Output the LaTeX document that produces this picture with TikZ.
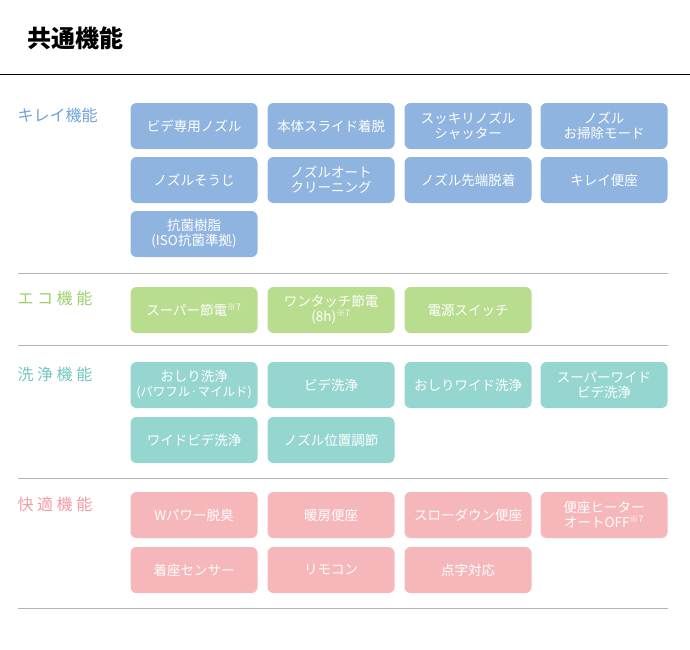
\documentclass[tikz,border=0pt]{standalone}
\usepackage{fontspec}
\setmainfont{Noto Sans CJK JP}
\usepackage{tikz}

\definecolor{kblue}{HTML}{8FB4E0}
\definecolor{kbluet}{HTML}{6FA2D8}
\definecolor{kgreen}{HTML}{B8DD8E}
\definecolor{kgreent}{HTML}{9DCF6E}
\definecolor{kteal}{HTML}{96D6D0}
\definecolor{ktealt}{HTML}{72C6BF}
\definecolor{kpink}{HTML}{F6B7BA}
\definecolor{kpinkt}{HTML}{F29CA2}

\tikzset{
  fbox/.style={rounded corners=6pt, minimum width=127pt, minimum height=46pt,
    text=white, align=center, font=\fontsize{13.5}{15}\selectfont, inner sep=1pt},
  cat/.style={anchor=west, font=\fontsize{16}{18}\selectfont},
  sep/.style={draw=black!30, line width=0.8pt}
}
\newcommand{\nsup}{\textsuperscript{\fontsize{9}{10}\selectfont ※7}}

\begin{document}
\begin{tikzpicture}[x=1pt,y=-1pt]
        \useasboundingbox (0,0) rectangle (690,649);

        % Title
        \node[anchor=west, font=\fontsize{24}{26}\selectfont\bfseries] (title) at (24,38) {共通機能};
        \draw[line width=1pt] (0,74) -- (690,74);

        % Clean
        \node[cat, text=kbluet] (clean) at (14,115) {キレイ機能};
        \node[fbox, fill=kblue] (c1) at (194,126) {ビデ専用ノズル};
        \node[fbox, fill=kblue] (c2) at (331,126) {本体スライド着脱};
        \node[fbox, fill=kblue] (c3) at (468,126) {スッキリノズル\\シャッター};
        \node[fbox, fill=kblue] (c4) at (604,126) {ノズル\\お掃除モード};
        \node[fbox, fill=kblue] (c5) at (194,180) {ノズルそうじ};
        \node[fbox, fill=kblue] (c6) at (331,180) {ノズルオート\\クリーニング};
        \node[fbox, fill=kblue] (c7) at (468,180) {ノズル先端脱着};
        \node[fbox, fill=kblue] (c8) at (604,180) {キレイ便座};
        \node[fbox, fill=kblue] (c9) at (194,234) {抗菌樹脂\\(ISO抗菌準拠)};
        \draw[sep] (18,273) -- (668,273);

        % Eco
        \node[cat, text=kgreent] (eco) at (14,298) {エ コ 機 能};
        \node[fbox, fill=kgreen] (e1) at (194,310) {スーパー節電\nsup};
        \node[fbox, fill=kgreen] (e2) at (331,310) {ワンタッチ節電\\(8h)\nsup};
        \node[fbox, fill=kgreen] (e3) at (468,310) {電源スイッチ};
        \draw[sep] (18,345) -- (668,345);

        % Wash
        \node[cat, text=ktealt] (wash) at (14,374) {洗 浄 機 能};
        \node[fbox, fill=kteal] (w1) at (194,385) {おしり洗浄\\{\fontsize{12.5}{14}\selectfont(パワフル·マイルド)}};
        \node[fbox, fill=kteal] (w2) at (331,385) {ビデ洗浄};
        \node[fbox, fill=kteal] (w3) at (468,385) {おしりワイド洗浄};
        \node[fbox, fill=kteal] (w4) at (604,385) {スーパーワイド\\ビデ洗浄};
        \node[fbox, fill=kteal] (w5) at (194,440) {ワイドビデ洗浄};
        \node[fbox, fill=kteal] (w6) at (331,440) {ノズル位置調節};
        \draw[sep] (18,478) -- (668,478);

        % Comfort
        \node[cat, text=kpinkt] (comfort) at (14,504) {快 適 機 能};
        \node[fbox, fill=kpink] (p1) at (194,515) {Wパワー脱臭};
        \node[fbox, fill=kpink] (p2) at (331,515) {暖房便座};
        \node[fbox, fill=kpink] (p3) at (468,515) {スローダウン便座};
        \node[fbox, fill=kpink] (p4) at (604,515) {便座ヒーター\\オートOFF\nsup};
        \node[fbox, fill=kpink] (p5) at (194,570) {着座センサー};
        \node[fbox, fill=kpink] (p6) at (331,570) {リモコン};
        \node[fbox, fill=kpink] (p7) at (468,570) {点字対応};
        \draw[sep] (18,608) -- (668,608);
    \end{tikzpicture}
\end{document}
